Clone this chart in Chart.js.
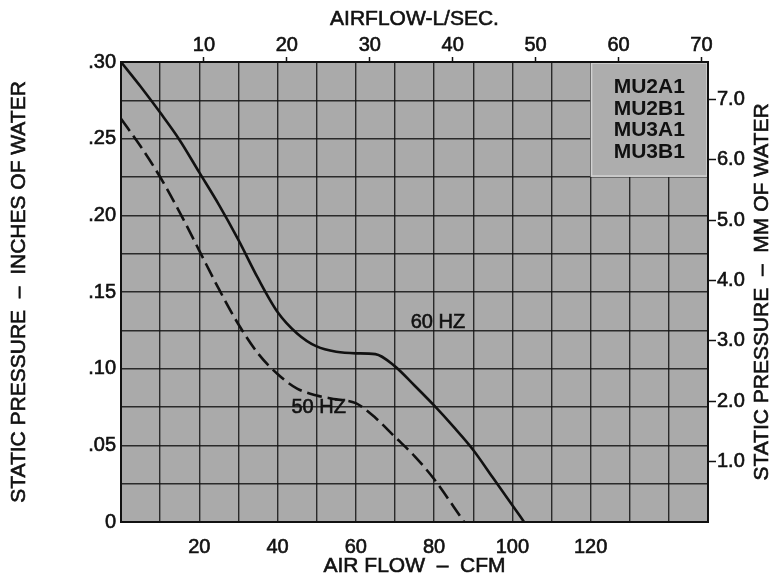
<!DOCTYPE html>
<html>
<head>
<meta charset="utf-8">
<script src="https://cdn.jsdelivr.net/npm/chart.js@4.4.0/dist/chart.umd.min.js"></script>
<style>
  html, body { margin: 0; padding: 0; background: #fff; }
  #wrap { width: 773px; height: 575px; position: relative; }
</style>
</head>
<body>
<div id="wrap"><canvas id="fanChart"></canvas></div>
<script>
// fan curves: air flow in CFM, static pressure in inches of water
const cfm60 = [0, 5, 10, 15, 20, 25, 30, 35, 40, 45, 50, 55, 60, 65, 70, 75, 80, 85, 90, 95, 100, 103];
const sp60 = [0.300, 0.284, 0.267, 0.249, 0.228, 0.207, 0.184, 0.159, 0.137, 0.123, 0.1145, 0.111, 0.110, 0.1095, 0.1015, 0.089, 0.076, 0.062, 0.047, 0.029, 0.011, 0];
const cfm50 = [0, 5, 10, 15, 20, 25, 30, 35, 40, 45, 50, 55, 60, 65, 70, 75, 80, 85, 87.7];
const sp50 = [0.263, 0.245, 0.225, 0.202, 0.177, 0.152, 0.129, 0.110, 0.0965, 0.087, 0.0825, 0.080, 0.0775, 0.068, 0.0555, 0.043, 0.028, 0.010, 0];

// axes
const cfmTicks = [0, 10, 20, 30, 40, 50, 60, 70, 80, 90, 100, 110, 120, 130, 140, 150];
const cfmLabels = [20, 40, 60, 80, 100, 120];
const inchTicks = [0, 0.025, 0.05, 0.075, 0.10, 0.125, 0.15, 0.175, 0.20, 0.225, 0.25, 0.275, 0.30];
const inchLabels = [0, 0.05, 0.10, 0.15, 0.20, 0.25, 0.30];
const lsecTicks = [10, 20, 30, 40, 50, 60, 70];
const mmTicks = [1, 2, 3, 4, 5, 6, 7];
const models = ['MU2A1', 'MU2B1', 'MU3A1', 'MU3B1'];

const CFM_PER_LS = 2.119;
const MM_PER_IN = 25.4;
const FONT = "'Liberation Sans', Arial, Helvetica, sans-serif";
const INK = '#111';
const GRID = 'rgba(20,20,20,0.85)';

function toPoints(xs, ys) {
  return xs.map((x, i) => ({ x: x, y: ys[i] }));
}
function hasVal(arr, v) {
  return arr.some((a) => Math.abs(a - v) < 1e-9);
}
// regular face with a thin outline, close to the medium Helvetica of the scan
function heavyText(ctx, txt, x, y) {
  ctx.lineWidth = 0.6;
  ctx.strokeStyle = INK;
  ctx.strokeText(txt, x, y);
  ctx.fillText(txt, x, y);
}

const paper = {
  id: 'paper',
  beforeDraw(chart) {
    const { ctx, chartArea: a } = chart;
    ctx.save();
    ctx.fillStyle = '#aaaaaa';
    ctx.fillRect(a.left, a.top, a.right - a.left, a.bottom - a.top);
    ctx.restore();
  },
  beforeDatasetsDraw(chart) {
    // model box in the upper right corner, it hides the grid
    const { ctx, chartArea: a, scales } = chart;
    const x0 = scales.x.getPixelForValue(120);
    const y1 = scales.y.getPixelForValue(0.225);
    ctx.save();
    ctx.fillStyle = '#adadad';
    ctx.fillRect(x0, a.top, a.right - x0, y1 - a.top);
    ctx.strokeStyle = '#d2d2d2';
    ctx.lineWidth = 1.5;
    ctx.strokeRect(x0 + 1, a.top + 1, a.right - x0 - 2, y1 - a.top - 2);
    ctx.fillStyle = INK;
    ctx.font = 'bold 21px ' + FONT;
    ctx.textAlign = 'center';
    ctx.textBaseline = 'middle';
    const cx = (x0 + a.right) / 2;
    const lh = 21.5;
    const cy = (a.top + y1) / 2 - (lh * (models.length - 1)) / 2;
    models.forEach((m, i) => ctx.fillText(m, cx, cy + i * lh));
    ctx.restore();
  },
  afterDatasetsDraw(chart) {
    const { ctx, scales } = chart;
    ctx.save();
    ctx.fillStyle = INK;
    ctx.font = '20px ' + FONT;
    ctx.textAlign = 'center';
    ctx.textBaseline = 'middle';
    heavyText(ctx, '60 HZ', scales.x.getPixelForValue(81), scales.y.getPixelForValue(0.130));
    heavyText(ctx, '50 HZ', scales.x.getPixelForValue(50.5), scales.y.getPixelForValue(0.075));
    ctx.restore();
  },
  afterDraw(chart) {
    const { ctx, chartArea: a } = chart;
    const midX = (a.left + a.right) / 2;
    const midY = (a.top + a.bottom) / 2;
    ctx.save();
    ctx.fillStyle = INK;
    ctx.font = '21px ' + FONT;
    ctx.textAlign = 'center';
    ctx.textBaseline = 'middle';
    heavyText(ctx, 'AIRFLOW-L/SEC.', midX, 19);
    heavyText(ctx, 'AIR FLOW  \u2013  CFM', midX, 566);
    ctx.translate(19, midY);
    ctx.rotate(-Math.PI / 2);
    heavyText(ctx, 'STATIC PRESSURE  \u2013  INCHES OF WATER', 0, 0);
    ctx.restore();
    ctx.save();
    ctx.fillStyle = INK;
    ctx.font = '21px ' + FONT;
    ctx.textAlign = 'center';
    ctx.textBaseline = 'middle';
    ctx.translate(762, midY);
    ctx.rotate(-Math.PI / 2);
    heavyText(ctx, 'STATIC PRESSURE  \u2013  MM OF WATER', 0, 0);
    ctx.restore();
  },
};

const tickFont = { family: FONT, size: 20 };
const tickStroke = { textStrokeColor: INK, textStrokeWidth: 0.6 };

const ctx = document.getElementById('fanChart').getContext('2d');
const chart = new Chart(ctx, {
  type: 'line',
  data: {
    datasets: [
      {
        label: '60 HZ',
        data: toPoints(cfm60, sp60),
        borderColor: INK,
        borderWidth: 2.6,
        pointRadius: 0,
        cubicInterpolationMode: 'monotone',
        xAxisID: 'x',
        yAxisID: 'y',
      },
      {
        label: '50 HZ',
        data: toPoints(cfm50, sp50),
        borderColor: INK,
        borderWidth: 2.6,
        borderDash: [15, 6],
        pointRadius: 0,
        cubicInterpolationMode: 'monotone',
        xAxisID: 'x',
        yAxisID: 'y',
      },
    ],
  },
  options: {
    responsive: true,
    maintainAspectRatio: false,
    animation: false,
    layout: { padding: 0 },
    plugins: { legend: { display: false }, tooltip: { enabled: false } },
    scales: {
      x: {
        type: 'linear',
        position: 'bottom',
        min: 0,
        max: 150,
        afterBuildTicks: (s) => { s.ticks = cfmTicks.map((v) => ({ value: v })); },
        afterFit: (s) => { s.height = 53; },
        ticks: Object.assign({
          callback: (v) => (hasVal(cfmLabels, v) ? String(v) : ''),
          autoSkip: false,
          maxRotation: 0,
          padding: 13,
          color: INK,
          font: tickFont,
        }, tickStroke),
        grid: { color: GRID, lineWidth: 1.4, drawTicks: false },
        border: { color: INK, width: 2, z: 1 },
      },
      y: {
        type: 'linear',
        position: 'left',
        min: 0,
        max: 0.30,
        afterBuildTicks: (s) => { s.ticks = inchTicks.map((v) => ({ value: v })); },
        afterFit: (s) => { s.width = 121; },
        ticks: Object.assign({
          callback: (v) => {
            if (!hasVal(inchLabels, v)) return '';
            return v === 0 ? '0' : v.toFixed(2).replace(/^0/, '');
          },
          autoSkip: false,
          padding: 5,
          color: INK,
          font: tickFont,
        }, tickStroke),
        grid: { color: GRID, lineWidth: 1.4, drawTicks: false },
        border: { color: INK, width: 2, z: 1 },
      },
      x2: {
        type: 'linear',
        position: 'top',
        min: 0,
        max: 150 / CFM_PER_LS,
        afterBuildTicks: (s) => { s.ticks = lsecTicks.map((v) => ({ value: v })); },
        afterFit: (s) => { s.height = 62; },
        ticks: Object.assign({ autoSkip: false, maxRotation: 0, padding: 0, color: INK, font: tickFont }, tickStroke),
        grid: { drawOnChartArea: false, drawTicks: true, tickLength: 5, tickWidth: 1.5, tickColor: INK },
        border: { color: INK, width: 2, z: 1 },
      },
      y2: {
        type: 'linear',
        position: 'right',
        min: 0,
        max: 0.30 * MM_PER_IN,
        afterBuildTicks: (s) => { s.ticks = mmTicks.map((v) => ({ value: v })); },
        afterFit: (s) => { s.width = 65; },
        ticks: Object.assign({
          callback: (v) => v.toFixed(1),
          autoSkip: false,
          padding: 1,
          color: INK,
          font: tickFont,
        }, tickStroke),
        grid: { drawOnChartArea: false, drawTicks: true, tickLength: 8, tickWidth: 1.5, tickColor: INK },
        border: { color: INK, width: 2, z: 1 },
      },
    },
  },
  plugins: [paper],
});
</script>
</body>
</html>
